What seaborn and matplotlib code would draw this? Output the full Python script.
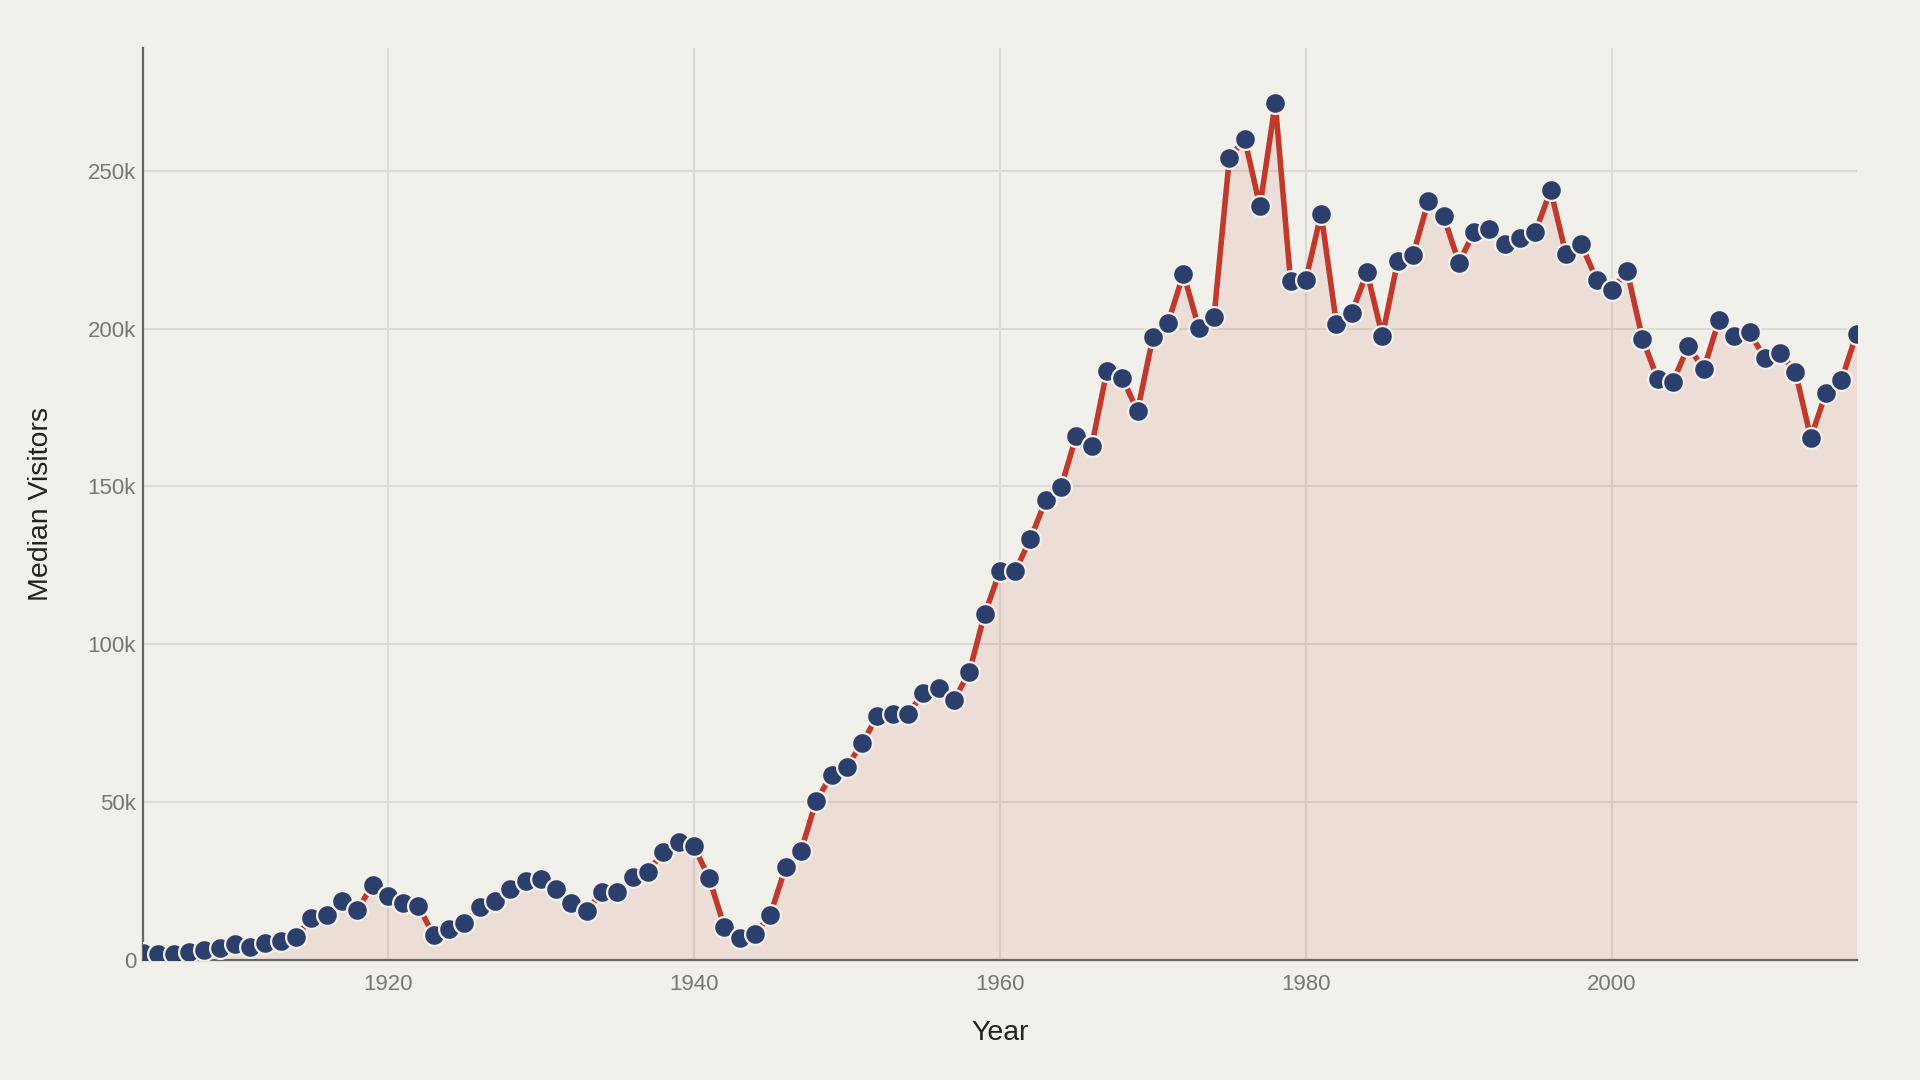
import seaborn as sns
import matplotlib.pyplot as plt
import matplotlib.ticker as mticker
import pandas as pd

# median visitors per year
years = list(range(1904, 2017))
visitors = [
    2300, 1900, 1900, 2700, 3100, 3900, 5000, 4300, 5400, 6200,
    7400, 13200, 14400, 18600, 15900, 23700, 20200, 18200, 17100, 7800,
    9700, 11600, 16700, 18600, 22500, 25200, 25600, 22500, 18200, 15500,
    21700, 21700, 26400, 28000, 34200, 37300, 36100, 26000, 10500, 7000,
    8200, 14400, 29500, 34500, 50500, 58600, 61300, 68700, 77300, 78000,
    78000, 84600, 86200, 82300, 91200, 109500, 123100, 123100, 133500, 145600,
    149800, 166100, 162700, 186700, 184400, 173900, 197200, 201900, 217400, 200300,
    203800, 253900, 260100, 238700, 271400, 215100, 215500, 236400, 201500, 205000,
    217800, 197600, 221300, 223200, 240300, 235600, 220900, 230600, 231400, 226700,
    228700, 230600, 243800, 223600, 226700, 215500, 212300, 218200, 196800, 184000,
    183200, 194500, 187100, 202600, 197600, 198800, 190600, 192200, 186300, 165400,
    179700, 183600, 198400,
]
y_ticks = [0, 50000, 100000, 150000, 200000, 250000]
y_tick_labels = ["0", "50k", "100k", "150k", "200k", "250k"]
x_ticks = [1920, 1940, 1960, 1980, 2000]

df = pd.DataFrame({"Year": years, "Median Visitors": visitors})

bg = "#f2f0eb"
line_color = "#c0392b"
marker_color = "#2c3e6b"

sns.set_theme(style="whitegrid")
plt.rcParams["font.family"] = ["Liberation Sans", "DejaVu Sans"]

fig = plt.figure(figsize=(19.2, 10.8), dpi=100, facecolor=bg)
ax = fig.add_axes([0.0745, 0.111, 0.8925, 0.845])
ax.set_facecolor(bg)

ax.fill_between(df["Year"], df["Median Visitors"], 0,
                color=line_color, alpha=0.10, linewidth=0, zorder=1)
sns.lineplot(data=df, x="Year", y="Median Visitors", ax=ax,
             color=line_color, linewidth=4, marker="o", markersize=15,
             markerfacecolor=marker_color, markeredgecolor="#f2f0eb",
             markeredgewidth=1.6, zorder=3)

ax.set_xlim(1904, 2016)
ax.set_ylim(0, 289000)
ax.set_xticks(x_ticks)
ax.set_yticks(y_ticks)
ax.set_yticklabels(y_tick_labels)
ax.xaxis.set_major_formatter(mticker.FormatStrFormatter("%d"))

ax.grid(True, color="#dedad4", linewidth=1.5)
ax.set_axisbelow(True)
for side in ["top", "right"]:
    ax.spines[side].set_visible(False)
for side in ["left", "bottom"]:
    ax.spines[side].set_color("#666666")
    ax.spines[side].set_linewidth(1.6)

ax.tick_params(axis="both", length=0, labelsize=16, labelcolor="#777777")
ax.tick_params(axis="x", pad=10)
ax.tick_params(axis="y", pad=5)
ax.set_xlabel("Year", fontsize=20.5, color="#222222", labelpad=18)
ax.set_ylabel("Median Visitors", fontsize=20.5, color="#222222", labelpad=24)

fig.savefig("out.png", dpi=100, facecolor=bg)
